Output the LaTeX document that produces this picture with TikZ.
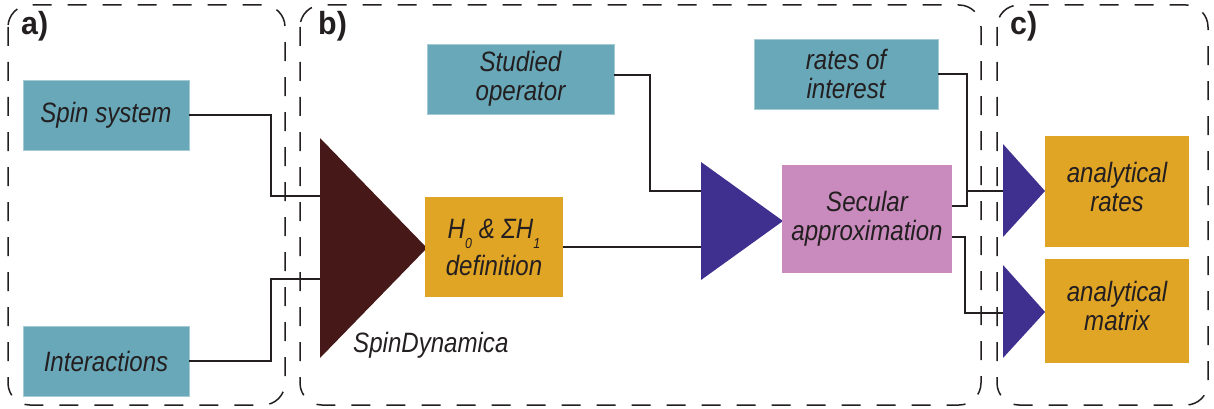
\documentclass[tikz,border=0pt]{standalone}
\usepackage{fontspec}
\newfontfamily\cond[FakeStretch=0.86]{Liberation Sans}
\newfontfamily\labfont[FakeStretch=0.95]{Liberation Sans}

\definecolor{ink}{HTML}{231F20}
\definecolor{boxteal}{HTML}{68A8B8}
\definecolor{boxorange}{HTML}{E1A526}
\definecolor{boxpink}{HTML}{C98BBD}
\definecolor{sdbrown}{HTML}{461818}
\definecolor{stepviolet}{HTML}{3F2F8F}

\newcommand{\lowidx}[1]{\smash{\raisebox{-10pt}{\fontsize{14.5}{14.5}\selectfont #1}}}

\begin{document}
\begin{tikzpicture}[x=1pt,y=-1pt,
  txt/.style={font=\cond\itshape\fontsize{28}{29}\selectfont, text=ink, align=center},
  blk/.style={txt, inner sep=0pt},
  inbox/.style={blk, fill=boxteal, draw=boxteal!60!white, line width=0.8pt},
  outbox/.style={blk, fill=boxorange},
  procbox/.style={blk, fill=boxpink},
  panel/.style={draw=ink, line width=1.5pt, dash pattern=on 19pt off 16pt, rounded corners=22pt},
  panellabel/.style={font=\labfont\bfseries\fontsize{32}{32}\selectfont, text=ink, anchor=base west, inner sep=0pt},
  wire/.style={draw=ink, line width=1.4pt},
  sdtri/.style={fill=sdbrown},
  steptri/.style={fill=stepviolet}]

\useasboundingbox (0,0) rectangle (1214,409);

% panels
\draw[panel] (8,5) rectangle (285,405);
\draw[panel] (300,5) rectangle (981,405);
\draw[panel] (997,5) rectangle (1208,405);
\node[panellabel] (la) at (21,35) {a)};
\node[panellabel] (lb) at (318,35) {b)};
\node[panellabel] (lc) at (1010,35) {c)};

% input boxes
\node[inbox, minimum width=166pt, minimum height=70pt] (spin) at (106,115) {Spin system};
\node[inbox, minimum width=166pt, minimum height=70pt] (inter) at (106,361) {Interactions};
\node[inbox, minimum width=187pt, minimum height=70pt] (stud) at (520.5,79) {Studied\\operator};
\node[inbox, minimum width=184pt, minimum height=70pt] (roi) at (846,74) {rates of\\interest};

% processing steps
\fill[sdtri] (320,138) -- (427,248) -- (320,358) -- cycle;
\coordinate (sdU) at (320,196);
\coordinate (sdL) at (320,279);
\node[txt, anchor=base west, inner sep=0pt] (sdname) at (353,352) {SpinDynamica};

\node[outbox, minimum width=138pt, minimum height=100pt] (h0) at (494,247)
  {H\lowidx{0} \& ΣH\lowidx{1}\\[8pt]definition};

\fill[steptri] (701,162) -- (783,221) -- (701,280) -- cycle;
\coordinate (p1U) at (701,191);
\coordinate (p1L) at (701,247);

\node[procbox, minimum width=170pt, minimum height=108pt] (sec) at (867,219) {Secular\\approximation};

% results
\fill[steptri] (1003,144) -- (1045,191) -- (1003,237) -- cycle;
\fill[steptri] (1003,265) -- (1045,312) -- (1003,358) -- cycle;
\coordinate (p2) at (1003,191);
\coordinate (p3) at (1003,313);

\node[outbox, minimum width=144pt, minimum height=111pt] (arate) at (1117,191.5) {analytical\\rates\rule[-10pt]{0pt}{0pt}};
\node[outbox, minimum width=144pt, minimum height=104pt] (amat) at (1117,311) {analytical\\matrix\rule[-10pt]{0pt}{0pt}};

% connectors
\draw[wire] (spin.east) -| ([xshift=-49pt]sdU) -- (sdU);
\draw[wire] (inter.east) -| ([xshift=-49pt]sdL) -- (sdL);
\draw[wire] ([yshift=4pt]stud.east) -| ([xshift=-51pt]p1U) -- (p1U);
\draw[wire] (h0.east) -- (p1L);
\draw[wire] (roi.east) -| ([xshift=-36pt]p2) -- (p2);
\draw[wire] ([yshift=13pt]sec.east) -| ([xshift=-36pt]p2);
\draw[wire] ([yshift=-18pt]sec.east) -| ([xshift=-38pt]p3) -- (p3);
\end{tikzpicture}
\end{document}
